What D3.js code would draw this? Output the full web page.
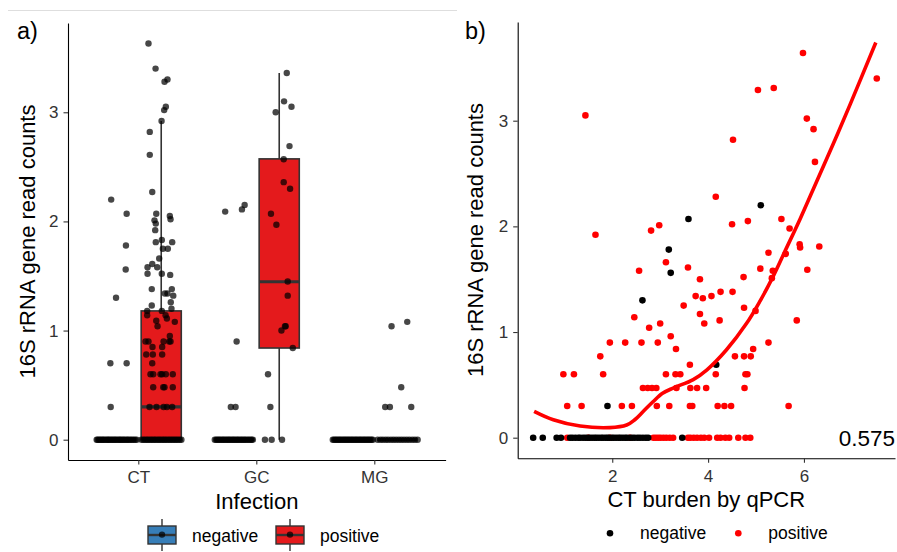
<!DOCTYPE html>
<html>
<head>
<meta charset="utf-8">
<script src="https://cdn.jsdelivr.net/npm/d3@7/dist/d3.min.js"></script>
<style>
  body { margin: 0; background: #fff; }
  svg { display: block; font-family: "Liberation Sans", Arial, sans-serif; }
</style>
</head>
<body>
<div id="chart"></div>
<script>
// ---- data ----
const categories = ["CT", "GC", "MG"];
const statuses = ["negative", "positive"];

// panel a: non-zero values, their horizontal jitter (share of category step), jitter of zero values
const ctNegValues = [2.20, 2.07, 1.78, 1.56, 1.30, 0.70, 0.70, 0.30];
const ctNegJitter = [-0.044, 0.087, 0.081, 0.079, -0.003, -0.051, 0.087, -0.048];
const ctNegZeroJitter = [-0.167, -0.158, -0.146, -0.137, -0.125, -0.114, -0.106, -0.093, -0.082, -0.071, -0.063, -0.051, -0.040, -0.029, -0.018, -0.008, 0.004, 0.015, 0.027, 0.036, 0.048, 0.059, 0.070, 0.083, 0.094, 0.105, 0.118, 0.131, 0.144, 0.158, 0.172];

const ctPosValues = [3.63, 3.40, 3.28, 3.30, 3.05, 3.02, 2.92, 2.82, 2.61, 2.27, 2.07, 2.05, 2.02, 2.01, 1.98, 1.92,
  1.81, 1.83, 1.81, 1.75, 1.75, 1.66, 1.61, 1.58, 1.58, 1.52, 1.52, 1.51, 1.38, 1.38, 1.34, 1.34, 1.32, 1.23, 1.26, 1.20,
  1.18, 1.18, 1.14, 1.14, 1.11, 1.09, 1.08, 1.04, 0.95, 0.90, 0.90, 0.90, 0.90, 0.90, 0.85, 0.85, 0.78, 0.78, 0.78, 0.70,
  0.60, 0.60, 0.60, 0.60, 0.60, 0.60, 0.48, 0.48, 0.48, 0.48, 0.30, 0.30, 0.30, 0.30, 0.30];
const ctPosJitter = [-0.108, -0.048, 0.028, 0.053, 0.039, 0.025, 0.003, -0.097, -0.097, -0.076, -0.042, 0.073, 0.079, -0.057, -0.046, -0.051,
  -0.046, 0.005, 0.093, 0.014, 0.056, -0.017, -0.076, -0.034, -0.116, -0.116, 0.005, 0.076, -0.080, 0.090, 0.031, 0.053, 0.102, -0.080, 0.081, 0.087,
  -0.119, 0.005, -0.119, 0.037, 0.048, -0.042, 0.115, -0.031, 0.073, -0.133, -0.108, 0.020, 0.068, 0.079, -0.074, 0.008, -0.127, -0.071, 0.008, -0.076,
  -0.091, -0.068, -0.006, 0.008, 0.039, 0.098, -0.068, 0.017, 0.028, 0.098, -0.099, -0.040, 0.020, 0.048, 0.093];
const ctPosZeroJitter = [-0.168, -0.152, -0.139, -0.124, -0.113, -0.098, -0.085, -0.072, -0.058, -0.047, -0.031, -0.019, -0.006, 0.008, 0.021, 0.033, 0.047, 0.061, 0.074, 0.088, 0.101, 0.115, 0.128, 0.142, 0.157, 0.171];

const gcNegValues = [2.09, 2.11, 2.15, 0.90, 0.30, 0.30];
const gcNegJitter = [-0.078, 0.064, 0.087, 0.019, -0.030, 0.010];
const gcNegZeroJitter = [-0.166, -0.154, -0.143, -0.131, -0.122, -0.109, -0.097, -0.088, -0.075, -0.064, -0.052, -0.043, -0.030, -0.019, -0.008, 0.003, 0.015, 0.026, 0.037, 0.049, 0.061, 0.072, 0.084, 0.095, 0.108, 0.121, 0.133, 0.146, 0.157];

const gcPosValues = [3.36, 3.10, 3.05, 3.00, 2.69, 2.57, 2.36, 2.30, 2.07, 1.97, 1.45, 1.32, 1.04, 1.04, 1.00, 0.84, 0.60, 0.30];
const gcPosJitter = [0.064, 0.041, 0.104, -0.030, 0.087, 0.038, 0.038, 0.092, -0.070, -0.024, 0.072, 0.072, 0.049, 0.055, 0.019, 0.115, -0.095, -0.075];
const gcPosZeroJitter = [-0.121, -0.064, 0.024];

const mgNegValues = [];
const mgNegJitter = [];
const mgNegZeroJitter = [-0.166, -0.155, -0.143, -0.132, -0.121, -0.110, -0.099, -0.087, -0.076, -0.064, -0.054, -0.042, -0.031, -0.020, -0.008, 0.003, 0.014, 0.026, 0.037, 0.048, 0.060, 0.071, 0.082, 0.094, 0.105, 0.116, 0.128, 0.139, 0.150, 0.162, 0.173];

const mgPosValues = [1.04, 1.08, 0.48, 0.30, 0.30, 0.30];
const mgPosJitter = [-0.048, 0.085, 0.034, -0.102, -0.062, 0.119];
const mgPosZeroJitter = [-0.166, -0.142, -0.121, -0.098, -0.077, -0.053, -0.031, -0.009, 0.014, 0.036, 0.058, 0.081, 0.103, 0.127, 0.150, 0.173];

// panel a box statistics (CT-neg, CT-pos, GC-neg, GC-pos, MG-neg, MG-pos)
const boxInfection = ["CT", "CT", "GC", "GC", "MG", "MG"];
const boxStatus = ["negative", "positive", "negative", "positive", "negative", "positive"];
const boxLower = [0, 0, 0, 0, 0, 0];
const boxQ1 = [0, 0, 0, 0.84, 0, 0];
const boxMedian = [0, 0.30, 0, 1.447, 0, 0];
const boxQ3 = [0, 1.18, 0, 2.573, 0, 0];
const boxUpper = [0, 2.92, 0, 3.36, 0, 0];

// panel b: CT burden vs reads
const negBurden = [3.59, 3.18, 3.22, 2.63, 5.10, 4.17, 1.90];
const negReads = [2.07, 1.78, 1.56, 1.30, 2.20, 0.69, 0.30];
const negZeroBurden = [0.35, 0.55, 0.84, 0.93, 1.12, 1.17, 1.23, 1.29, 1.33, 1.39, 1.44, 1.49, 1.53, 1.58, 1.63, 1.67, 1.72, 1.77, 1.81,
  1.86, 1.90, 1.94, 1.99, 2.03, 2.08, 2.13, 2.17, 2.22, 2.27, 2.31, 2.37, 2.42, 2.47, 2.53, 2.58, 2.64, 2.70, 2.75, 3.46];

const posBurden = [1.44, 1.65, 2.81, 2.98, 3.12, 2.56, 3.58, 3.83, 3.74, 3.89, 3.49, 3.83, 2.46, 3.92, 2.77, 3.00, 3.22,
  5.98, 7.52, 5.04, 5.37, 6.06, 6.20, 4.52, 6.23, 4.16, 4.50, 4.83, 5.53, 5.70, 5.91, 5.92, 6.32, 5.26, 5.62, 5.09, 5.35,
  6.07, 5.33, 4.74, 4.07, 4.26, 4.51, 4.24, 4.75, 4.99, 5.85, 5.26, 3.33, 1.95, 2.27, 2.61, 2.95, 1.75, 0.98, 1.20, 1.81,
  4.94, 4.56, 4.75, 4.89, 3.62, 3.12, 3.32, 3.42, 4.16, 4.78, 4.82,
  2.64, 2.74, 2.83, 2.92, 3.34, 3.63, 3.77, 3.96, 4.76,
  1.06, 1.36, 2.20, 2.41, 2.93, 3.19, 3.62, 3.67, 4.20, 4.34, 4.48, 5.68];
const posReads = [3.05, 1.92, 1.96, 2.01, 1.66, 1.58, 1.61, 1.50, 1.34, 1.32, 1.25, 1.17, 1.14, 1.08, 1.04, 1.08, 0.96,
  3.64, 3.40, 3.29, 3.31, 3.02, 2.92, 2.82, 2.61, 2.28, 2.02, 2.05, 2.07, 1.98, 1.83, 1.80, 1.81, 1.75, 1.74, 1.60, 1.58,
  1.59, 1.51, 1.52, 1.34, 1.38, 1.38, 1.11, 1.23, 1.20, 1.11, 0.90, 0.84, 0.90, 0.90, 0.90, 0.90, 0.77, 0.60, 0.60, 0.60,
  0.84, 0.77, 0.77, 0.77, 0.69, 0.60, 0.60, 0.60, 0.60, 0.60, 0.60,
  0.47, 0.47, 0.47, 0.47, 0.47, 0.47, 0.47, 0.47, 0.47,
  0.30, 0.30, 0.30, 0.30, 0.30, 0.30, 0.30, 0.30, 0.30, 0.30, 0.30, 0.30];
const posZeroBurden = [1.06, 1.50, 1.95, 2.37, 2.86, 2.91, 2.96, 3.01, 3.07, 3.13, 3.20, 3.27, 3.58, 3.63, 3.70, 3.77, 3.85,
  3.92, 4.02, 4.19, 4.26, 4.36, 4.44, 4.63, 4.78, 4.88];

// loess curve as drawn
const smoothBurden = [0.37, 0.77, 1.33, 1.95, 2.30, 2.47, 2.65, 2.85, 3.05, 3.27, 3.69, 3.97, 4.38, 4.80, 5.08, 5.35, 5.62, 5.92, 6.27, 6.61, 6.96, 7.50];
const smoothReads = [0.25, 0.17, 0.11, 0.095, 0.12, 0.17, 0.25, 0.34, 0.42, 0.47, 0.55, 0.64, 0.83, 1.08, 1.29, 1.52, 1.78, 2.07, 2.43, 2.78, 3.15, 3.74];
const corrLabel = "0.575";

// ---- drawing ----
const W = 897, H = 552;
const boxFill = { negative: "#377EB8", positive: "#E41A1C" };
const dotFill = { negative: "#000000", positive: "#FF0000" };

const svg = d3.select("#chart").append("svg").attr("width", W).attr("height", H);

svg.append("line").attr("x1", 8).attr("x2", 457).attr("y1", 10.5).attr("y2", 10.5)
  .attr("stroke", "#dedede").attr("stroke-width", 1);

function styleAxis(g) {
  g.select(".domain").attr("stroke", "#000").attr("stroke-width", 1.1);
  g.selectAll(".tick line").attr("stroke", "#333").attr("stroke-width", 1.1);
  g.selectAll(".tick text").attr("fill", "#333").style("font-size", "17px");
}

// panel a
const xA = d3.scaleBand().domain(categories).range([68, 445.6]).paddingInner(0).paddingOuter(0.1);
const yA = d3.scaleLinear().domain([-0.186, 3.818]).range([460, 23]);
const step = xA.step();
const dodge = (s) => (s === "negative" ? -0.19 : 0.19) * step;
const halfBox = 0.17 * step;
const center = (c, s) => xA(c) + xA.bandwidth() / 2 + dodge(s);

const boxes = boxInfection.map((c, i) => ({
  cat: c, status: boxStatus[i], lo: boxLower[i], q1: boxQ1[i], med: boxMedian[i], q3: boxQ3[i], hi: boxUpper[i]
}));

const gA = svg.append("g");
const boxG = gA.selectAll("g.box").data(boxes).join("g").attr("class", "box");
boxG.append("line")
  .attr("x1", (d) => center(d.cat, d.status)).attr("x2", (d) => center(d.cat, d.status))
  .attr("y1", (d) => yA(d.hi)).attr("y2", (d) => yA(d.lo))
  .attr("stroke", "#333").attr("stroke-width", 1.6);
boxG.append("rect")
  .attr("x", (d) => center(d.cat, d.status) - halfBox).attr("width", 2 * halfBox)
  .attr("y", (d) => yA(d.q3)).attr("height", (d) => yA(d.q1) - yA(d.q3))
  .attr("fill", (d) => boxFill[d.status]).attr("stroke", "#333").attr("stroke-width", 1.6);
boxG.append("line")
  .attr("x1", (d) => center(d.cat, d.status) - halfBox).attr("x2", (d) => center(d.cat, d.status) + halfBox)
  .attr("y1", (d) => yA(d.med)).attr("y2", (d) => yA(d.med))
  .attr("stroke", "#333").attr("stroke-width", 3.2);

const groupsA = [
  ["CT", "negative", ctNegValues, ctNegJitter, ctNegZeroJitter],
  ["CT", "positive", ctPosValues, ctPosJitter, ctPosZeroJitter],
  ["GC", "negative", gcNegValues, gcNegJitter, gcNegZeroJitter],
  ["GC", "positive", gcPosValues, gcPosJitter, gcPosZeroJitter],
  ["MG", "negative", mgNegValues, mgNegJitter, mgNegZeroJitter],
  ["MG", "positive", mgPosValues, mgPosJitter, mgPosZeroJitter]
];
const pointsA = [];
groupsA.forEach(([c, s, vals, jit, zj]) => {
  zj.forEach((j) => pointsA.push({ cat: c, status: s, v: 0, j }));
  vals.forEach((v, i) => pointsA.push({ cat: c, status: s, v, j: jit[i] }));
});
gA.append("g").selectAll("circle").data(pointsA).join("circle")
  .attr("cx", (d) => center(d.cat, d.status) + d.j * step)
  .attr("cy", (d) => yA(d.v))
  .attr("r", 3.2)
  .attr("fill", "#000").attr("fill-opacity", 0.72);

gA.append("g").attr("transform", "translate(68,0)")
  .call(d3.axisLeft(yA).tickValues([0, 1, 2, 3]).tickFormat(d3.format("d")).tickSize(4.5).tickSizeOuter(0).tickPadding(5))
  .call(styleAxis);
gA.append("g").attr("transform", "translate(0,460)")
  .call(d3.axisBottom(xA).tickSize(4.5).tickSizeOuter(0).tickPadding(6.8))
  .call(styleAxis);

gA.append("text").attr("x", 256.8).attr("y", 509).attr("text-anchor", "middle")
  .style("font-size", "22px").text("Infection");
gA.append("text").attr("transform", "translate(35,241.5) rotate(-90)").attr("text-anchor", "middle")
  .style("font-size", "22px").text("16S rRNA gene read counts");
gA.append("text").attr("x", 17).attr("y", 39).style("font-size", "23.5px").text("a)");

// legend a (boxplot keys)
const legA = gA.append("g").selectAll("g").data(statuses).join("g")
  .attr("transform", (d, i) => `translate(${[148, 276][i]},526)`);
legA.append("line").attr("x1", 14).attr("x2", 14).attr("y1", -7).attr("y2", 25)
  .attr("stroke", "#333").attr("stroke-width", 1.4);
legA.append("rect").attr("width", 28).attr("height", 18)
  .attr("fill", (d) => boxFill[d]).attr("stroke", "#333").attr("stroke-width", 1.4);
legA.append("line").attr("x1", 0).attr("x2", 28).attr("y1", 9).attr("y2", 9)
  .attr("stroke", "#333").attr("stroke-width", 2.4);
legA.append("circle").attr("cx", 14).attr("cy", 8.6).attr("r", 3.2).attr("fill", "#000").attr("fill-opacity", 0.72);
legA.append("text").attr("x", 44).attr("y", 15.7).style("font-size", "17.5px").text((d) => d);

// panel b
const xB = d3.scaleLinear().domain([0.027, 7.9]).range([517.7, 895]);
const yB = d3.scaleLinear().domain([-0.195, 3.934]).range([458.3, 22]);
const gB = svg.append("g");

const posPts = posZeroBurden.map((b) => [b, 0]).concat(posBurden.map((b, i) => [b, posReads[i]]));
const negPts = negZeroBurden.map((b) => [b, 0]).concat(negBurden.map((b, i) => [b, negReads[i]]));

gB.append("g").selectAll("circle").data(posPts).join("circle")
  .attr("cx", (d) => xB(d[0])).attr("cy", (d) => yB(d[1])).attr("r", 3.3).attr("fill", dotFill.positive);
gB.append("g").selectAll("circle").data(negPts).join("circle")
  .attr("cx", (d) => xB(d[0])).attr("cy", (d) => yB(d[1])).attr("r", 3.3).attr("fill", dotFill.negative);

const smoothLine = d3.line().x((d) => xB(d[0])).y((d) => yB(d[1])).curve(d3.curveCatmullRom);
gB.append("path").datum(smoothBurden.map((b, i) => [b, smoothReads[i]]))
  .attr("d", smoothLine).attr("fill", "none").attr("stroke", "#FF0000").attr("stroke-width", 3.6);

gB.append("g").attr("transform", "translate(517.7,0)")
  .call(d3.axisLeft(yB).tickValues([0, 1, 2, 3]).tickFormat(d3.format("d")).tickSize(4.5).tickSizeOuter(0).tickPadding(5))
  .call(styleAxis);
gB.append("g").attr("transform", "translate(0,458.3)")
  .call(d3.axisBottom(xB).tickValues([2, 4, 6]).tickFormat(d3.format("d")).tickSize(4.5).tickSizeOuter(0).tickPadding(6.8))
  .call(styleAxis);

gB.append("text").attr("x", 895).attr("y", 445.7).attr("text-anchor", "end")
  .style("font-size", "22.5px").text(corrLabel);
gB.append("text").attr("x", 706.3).attr("y", 507.3).attr("text-anchor", "middle")
  .style("font-size", "22px").text("CT burden by qPCR");
gB.append("text").attr("transform", "translate(482.7,240) rotate(-90)").attr("text-anchor", "middle")
  .style("font-size", "22px").text("16S rRNA gene read counts");
gB.append("text").attr("x", 465).attr("y", 39).style("font-size", "23.5px").text("b)");

const legB = gB.append("g").selectAll("g").data(statuses).join("g")
  .attr("transform", (d, i) => `translate(${[610, 738.3][i]},533.3)`);
legB.append("circle").attr("r", 3.3).attr("fill", (d) => dotFill[d]);
legB.append("text").attr("x", 30).attr("y", 6).style("font-size", "17.5px").text((d) => d);
</script>
</body>
</html>
